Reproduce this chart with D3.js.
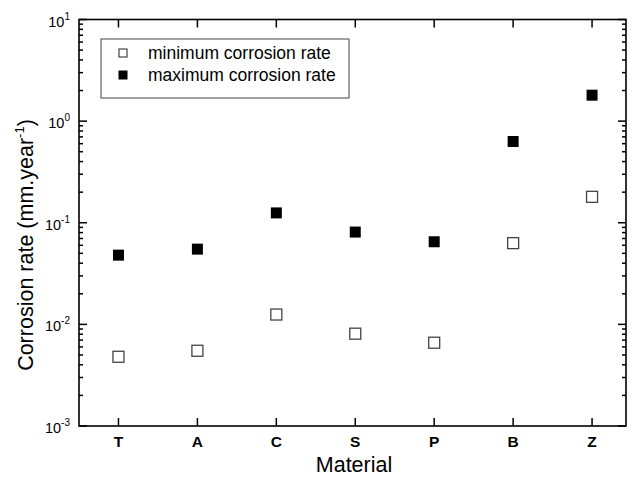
<!DOCTYPE html>
<html><head><meta charset="utf-8">
<script src="https://cdn.jsdelivr.net/npm/d3@7"></script>
<style>body{margin:0;background:#fff}svg{display:block}text{font-family:"Liberation Sans",Arial,sans-serif}</style>
</head><body>
<svg id="c" width="636" height="477"></svg>
<script>
const categories = ["T","A","C","S","P","B","Z"];
const minRate = [0.0048, 0.0055, 0.0125, 0.0081, 0.0066, 0.063, 0.18];
const maxRate = [0.048, 0.055, 0.125, 0.081, 0.065, 0.63, 1.8];
const yTickExps = [-3,-2,-1,0,1];
const seriesNames = ["minimum corrosion rate","maximum corrosion rate"];

const svg = d3.select("#c");
const L=79, R=626, T=19.5, B=426;
const x = d3.scaleLinear().domain([0.5, 7.43]).range([L, R]);
const y = d3.scaleLog().domain([1e-3, 10]).range([B, T]);

const minor = [];
for (let e=-3;e<1;e++) for (let m=2;m<=9;m++) minor.push(m*Math.pow(10,e));
const majors = yTickExps.map(e=>Math.pow(10,e));
const catPos = categories.map((c,i)=>i+1);

// frame
svg.append("rect").attr("x",L).attr("y",T).attr("width",R-L).attr("height",B-T)
  .attr("fill","none").attr("stroke","#000").attr("stroke-width",1.6);

// y tick labels
yTickExps.forEach(e=>{
  const t = svg.append("text").attr("x",70).attr("y",y(Math.pow(10,e))+7)
    .attr("text-anchor","end").attr("font-size",14.5);
  t.append("tspan").text("10");
  t.append("tspan").attr("dy",-7).attr("font-size",10).text(e);
});
// x tick labels
categories.forEach((c,i)=>{
  svg.append("text").attr("x",x(i+1)).attr("y",447).attr("text-anchor","middle")
    .attr("font-size",15.5).attr("font-weight","bold").text(c);
});

// axis titles
svg.append("text").attr("x",354).attr("y",472).attr("text-anchor","middle")
  .attr("font-size",21.5).text("Material");
const yt = svg.append("text").attr("transform","translate(33,245) rotate(-90)")
  .attr("text-anchor","middle").attr("font-size",21.5);
yt.append("tspan").text("Corrosion rate (mm.year");
yt.append("tspan").attr("dy",-9).attr("font-size",13).text("-1");
yt.append("tspan").attr("dy",9).text(")");

// markers
const s = 11;
svg.append("g").selectAll("rect").data(minRate).join("rect")
  .attr("x",(d,i)=>x(i+1)-s/2).attr("y",d=>y(d)-s/2).attr("width",s).attr("height",s)
  .attr("fill","#fff").attr("stroke","#444").attr("stroke-width",1.3);
svg.append("g").selectAll("rect").data(maxRate).join("rect")
  .attr("x",(d,i)=>x(i+1)-s/2).attr("y",d=>y(d)-s/2).attr("width",s).attr("height",s)
  .attr("fill","#000");

// legend
const lg = svg.append("g");
lg.append("rect").attr("x",101).attr("y",39).attr("width",248).attr("height",59)
  .attr("fill","#fff").attr("stroke","#444").attr("stroke-width",1);
lg.append("rect").attr("x",119).attr("y",49).attr("width",8).attr("height",8)
  .attr("fill","#fff").attr("stroke","#444").attr("stroke-width",1.2);
lg.append("rect").attr("x",118.5).attr("y",70.5).attr("width",9).attr("height",9).attr("fill","#000");
lg.append("text").attr("x",148).attr("y",59).attr("font-size",17.5).text(seriesNames[0]);
lg.append("text").attr("x",148).attr("y",81).attr("font-size",17.5).text(seriesNames[1]);

// tick marks (inward, on all four sides)
const tk = svg.append("g").attr("id","ticks");
const yTicks = majors.map(v=>({v,len:8})).concat(minor.map(v=>({v,len:4})));
yTicks.forEach(d=>{
  tk.append("line").attr("x1",L).attr("x2",L+d.len).attr("y1",y(d.v)).attr("y2",y(d.v))
    .attr("stroke","#000").attr("stroke-width",1.5);
  tk.append("line").attr("x1",R).attr("x2",R-d.len).attr("y1",y(d.v)).attr("y2",y(d.v))
    .attr("stroke","#000").attr("stroke-width",1.5);
});
catPos.forEach(d=>{
  tk.append("line").attr("x1",x(d)).attr("x2",x(d)).attr("y1",B).attr("y2",B-8)
    .attr("stroke","#000").attr("stroke-width",1.5);
  tk.append("line").attr("x1",x(d)).attr("x2",x(d)).attr("y1",T).attr("y2",T+8)
    .attr("stroke","#000").attr("stroke-width",1.5);
});
</script>
</body></html>
